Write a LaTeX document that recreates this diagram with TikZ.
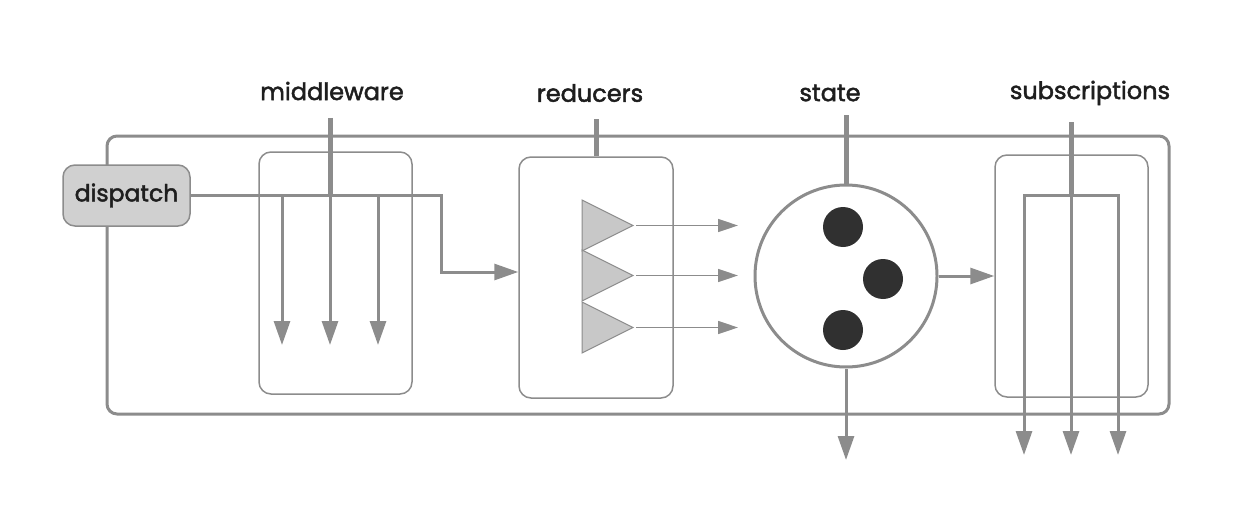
\documentclass[tikz,border=0pt]{standalone}
\usepackage{fontspec}
\setmainfont{Poppins}
\newfontfamily\lblfont{Poppins}[FakeBold=2]
\usetikzlibrary{arrows.meta,calc}
\definecolor{ln}{HTML}{8C8C8C}
\definecolor{tri}{HTML}{C8C8C8}
\definecolor{dotc}{HTML}{303030}
\definecolor{dfill}{HTML}{D0D0D0}
\definecolor{txt}{HTML}{1E1E1E}
\begin{document}
\begin{tikzpicture}[x=1pt,y=-1pt,
  box/.style={draw=ln, line width=1.5pt, rounded corners=12pt, inner sep=0pt},
  lab/.style={font=\lblfont\fontsize{24}{26}\selectfont, text=txt, inner sep=0pt},
  wire/.style={draw=ln, line width=3pt},
  stub/.style={draw=ln, line width=5pt},
  arr/.style={-{Triangle[length=24pt,width=16pt]}},
  sarr/.style={-{Triangle[length=20pt,width=13pt]}},
]
\useasboundingbox (0,0) rectangle (1238,516);
% outer container
\node[box, line width=3pt, rounded corners=10pt, minimum width=1062pt, minimum height=278pt] (outer) at (638,275) {};
% boxes
\node[box, minimum width=153pt, minimum height=242pt] (mw) at (335.5,273) {};
\node[box, minimum width=154pt, minimum height=241pt] (red) at (596,277.5) {};
\node[box, minimum width=153pt, minimum height=242pt] (subs) at (1071.5,276) {};
\node[box, fill=dfill, minimum width=127pt, minimum height=61pt, font=\lblfont\fontsize{23.5}{26}\selectfont, text=txt] (dispatch) at (126.5,195.5) {dispatch};
\node[draw=ln, line width=3pt, circle, minimum size=182pt, inner sep=0pt] (state) at (846,276) {};
% labels
\node[lab] (lmw) at (332,91) {middleware};
\node[lab] (lred) at (590,93) {reducers};
\node[lab] (lstate) at (830,93) {state};
\node[lab] (lsubs) at (1090,93) {subscriptions};
% middleware
\coordinate (mwin) at (330,118);
\coordinate (mwj) at (330,195.5);
\coordinate (mwa) at (282,195.5);
\coordinate (mwc) at (378,195.5);
\coordinate (turn) at (441,272);
\path[stub] (mwin) -- (mwj);
\path[wire, arr] (dispatch.east) -| (turn) -- (turn -| red.west);
\path[wire, arr] (mwa) -- (282,345);
\path[wire, arr] (mwj) -- (330,345);
\path[wire, arr] (mwc) -- (378,345);
% reducers
\path[stub] (red.north) -- ++(0,-37);
\foreach \y/\n in {200/a,250/b,302/c}{
  \draw[fill=tri, draw=ln, line width=1pt] (582,\y) -- ++(51,25.5) coordinate (tip\n) -- ++(-51,25.5) -- cycle;
}
\foreach \n in {a,b,c}{
  \path[draw=ln, line width=1.5pt, sarr] ($(tip\n)+(3,0)$) -- ($(tip\n)+(105,0)$);
}
% state
\path[stub] (state.north) -- ++(0,-68);
\fill[dotc] (843,227) circle (20pt);
\fill[dotc] (883,279) circle (20pt);
\fill[dotc] (843,330) circle (20pt);
\path[wire, arr] (state.south) -- (846,460);
\path[wire, arr] (state.east) -- (subs.west);
% subscriptions
\coordinate (sbin) at (1071,122);
\coordinate (sbj) at (1071,195);
\path[stub] (sbin) -- (sbj);
\path[wire, arr] (sbj) -| (1024,455);
\path[wire, arr] (sbj) -| (1118,455);
\path[wire, arr] (sbj) -- (1071,455);
\end{tikzpicture}
\end{document}
